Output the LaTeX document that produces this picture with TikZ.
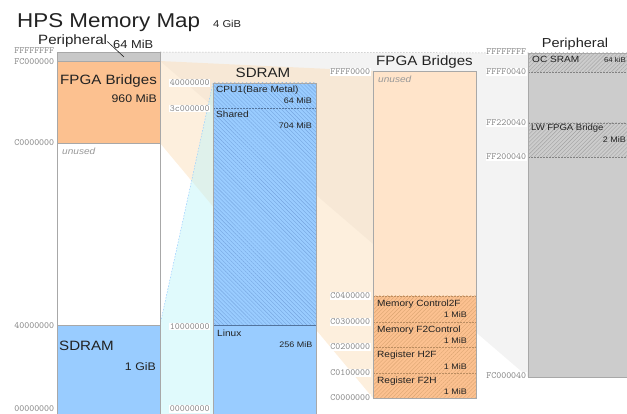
\documentclass[tikz,border=0pt]{standalone}
\usepackage{fontspec}
\setmainfont[FakeStretch=1.12]{Liberation Sans}
\usetikzlibrary{patterns.meta}

\definecolor{bandgrey}{HTML}{C8C8C8}
\definecolor{perigrey}{HTML}{CCCCCC}
\definecolor{fpgaorange}{HTML}{FCC190}
\definecolor{fpgalight}{HTML}{FFE4CA}
\definecolor{sdramblue}{HTML}{99CCFF}
\definecolor{hatchblue}{HTML}{77A6E0}
\definecolor{hatchorange}{HTML}{DCA672}
\definecolor{hatchgrey}{HTML}{A2A2A2}
\definecolor{edgegrey}{HTML}{A8A8A8}
\definecolor{fangreybase}{HTML}{E7E7E7}
\definecolor{fanorangebase}{HTML}{FBDFBB}
\definecolor{fancyanbase}{HTML}{C1F5F9}
\definecolor{addrgrey}{HTML}{858585}
\definecolor{inktext}{HTML}{222222}

\begin{document}
\begin{tikzpicture}[x=1pt,y=-1pt,
  colbox/.style={draw=edgegrey,line width=0.8pt},
  divider/.style={line width=0.6pt,dash pattern=on 2pt off 1pt},
  fanfill/.style={fill opacity=0.5},
  fanedge/.style={line width=0.5pt,dash pattern=on 1.5pt off 1.5pt},
  hatchdown/.style={pattern={Lines[angle=-45,distance=2.8pt,line width=0.4pt]},pattern color=#1},
  hatchup/.style={pattern={Lines[angle=45,distance=2.8pt,line width=0.4pt]},pattern color=#1},
  addr/.style={font=\ttfamily\fontsize{9.5}{10}\selectfont,text=addrgrey,
    fill=white,inner sep=0.6pt,anchor=east},
  coltitle/.style={font=\fontsize{13.5}{14}\selectfont,text=inktext,anchor=base,inner sep=0pt},
  bigname/.style={font=\fontsize{13.5}{14}\selectfont,text=inktext,anchor=base west,inner sep=0pt},
  bigsize/.style={font=\fontsize{11}{12}\selectfont,text=inktext,anchor=base east,inner sep=0pt},
  secname/.style={font=\fontsize{9}{10}\selectfont,text=inktext,anchor=base west,inner sep=0pt},
  secsize/.style={font=\fontsize{8}{9}\selectfont,text=inktext,anchor=base east,inner sep=0pt},
  unusedlbl/.style={font=\itshape\fontsize{9}{10}\selectfont,text=black!40,anchor=base west,inner sep=0pt}]
\useasboundingbox (0,0) rectangle (627,414);

% ---- projection fans between the maps ----
\fill[fangreybase,fanfill] (160,52) -- (528,53) -- (528,377) -- (160,61) -- cycle;
\draw[black!25,fanedge] (160,52) -- (528,53);
\fill[fanorangebase,fanfill] (160,61) -- (373,71) -- (373,398) -- (160,143) -- cycle;
\fill[fancyanbase,fanfill] (160,325) -- (213,83) -- (213,420) -- (160,420) -- cycle;
\draw[sdramblue,fanedge] (160,325) -- (213,83);

% ---- title ----
\node[font=\fontsize{20}{22}\selectfont,text=inktext,anchor=base west,inner sep=0pt]
  (title) at (17,28) {HPS Memory Map};
\node[font=\fontsize{10}{11}\selectfont,text=inktext,anchor=base west,inner sep=0pt]
  (titlesize) at (213,28) {4 GiB};

% ---- full 4 GiB map ----
\filldraw[colbox,fill=bandgrey] (57,52) rectangle (160,61);
\filldraw[colbox,fill=fpgaorange] (57,61) rectangle (160,143);
\filldraw[colbox,fill=white] (57,143) rectangle (160,325);
\filldraw[colbox,fill=sdramblue] (57,325) rectangle (160,420);

\node[font=\fontsize{13.5}{14}\selectfont,text=inktext,anchor=base west,inner sep=0pt]
  (periname) at (38,45) {Peripheral};
\node[font=\fontsize{11.5}{12}\selectfont,text=inktext,anchor=base west,inner sep=0pt]
  (perisize) at (113,49) {64 MiB};
\coordinate (periband) at (124,57);
\draw[inktext,line width=0.6pt] (periname.east) -- (periband);

\node[bigname] (fpganame) at (60,85) {FPGA Bridges};
\node[bigsize] (fpgasize) at (157,103) {960 MiB};
\node[unusedlbl] (unusedmain) at (62,155) {unused};
\node[bigname] (sdramname) at (59,350) {SDRAM};
\node[bigsize] (sdramsize) at (156,370.5) {1 GiB};

\node[addr] (a1) at (55,51) {FFFFFFFF};
\node[addr] (a2) at (55,61.5) {FC000000};
\node[addr] (a3) at (55,143) {C0000000};
\node[addr] (a4) at (55,326) {40000000};
\node[addr] (a5) at (55,409) {00000000};

% ---- SDRAM detail ----
\fill[sdramblue] (213,83) rectangle (316,325);
\fill[hatchdown=hatchblue] (213,83) rectangle (316,325);
\draw[hatchblue!70!black,divider] (213,108) -- (316,108);
\fill[sdramblue] (213,325) rectangle (316,420);
\draw[hatchblue!70!black,line width=0.6pt] (213,325) -- (316,325);
\draw[colbox] (213,420) -- (213,83) -- (316,83) -- (316,420);

\node[coltitle] (sdramtitle) at (263,78) {SDRAM};
\node[secname] (cpu1) at (216,93) {CPU1(Bare Metal)};
\node[secsize] (cpu1size) at (312,104) {64 MiB};
\node[secname] (shared) at (216,118) {Shared};
\node[secsize] (sharedsize) at (312,129) {704 MiB};
\node[secname] (linux) at (217,337) {Linux};
\node[secsize] (linuxsize) at (312.5,347) {256 MiB};

\node[addr] (s1) at (210.5,83) {40000000};
\node[addr] (s2) at (210.5,108.5) {3c000000};
\node[addr] (s3) at (210.5,326.5) {10000000};
\node[addr] (s4) at (210.5,409) {00000000};

% ---- FPGA bridges detail ----
\fill[fpgalight] (373,71) rectangle (476,296);
\fill[fpgaorange] (373,296) rectangle (476,398);
\fill[hatchup=hatchorange] (373,296) rectangle (476,398);
\foreach \yy in {296,322,347,373}
  \draw[hatchorange!85!black,divider] (373,\yy) -- (476,\yy);
\draw[colbox] (373,71) rectangle (476,398);

\node[coltitle] (fpgatitle) at (424.5,66) {FPGA Bridges};
\node[unusedlbl] (unusedfpga) at (378,83) {unused};
\node[secname] (mc2f) at (377,306.5) {Memory Control2F};
\node[secsize] (mc2fsize) at (467,318) {1 MiB};
\node[secname] (mf2c) at (377,332.5) {Memory F2Control};
\node[secsize] (mf2csize) at (467,343) {1 MiB};
\node[secname] (rh2f) at (377,357.5) {Register H2F};
\node[secsize] (rh2fsize) at (467,369) {1 MiB};
\node[secname] (rf2h) at (377,383) {Register F2H};
\node[secsize] (rf2hsize) at (467,394) {1 MiB};

\node[addr] (f1) at (371,72) {FFFF0000};
\node[addr] (f2) at (371,296) {C0400000};
\node[addr] (f3) at (371,322) {C0300000};
\node[addr] (f4) at (371,347) {C0200000};
\node[addr] (f5) at (371,373) {C0100000};
\node[addr] (f6) at (371,398) {C0000000};

% ---- peripheral detail ----
\fill[perigrey] (528,53) rectangle (631,377);
\fill[hatchup=hatchgrey] (528,53) rectangle (631,72);
\fill[hatchup=hatchgrey] (528,123) rectangle (631,157);
\draw[hatchgrey!80!black,divider] (528,72) -- (631,72);
\draw[hatchgrey!80!black,divider] (528,123) -- (631,123);
\draw[hatchgrey!80!black,divider] (528,157) -- (631,157);
\draw[colbox] (528,53) rectangle (631,377);

\node[font=\fontsize{13}{14}\selectfont,text=inktext,anchor=base,inner sep=0pt]
  (perititle) at (575,48) {Peripheral};
\node[secname] (ocsram) at (532,63) {OC SRAM};
\node[font=\fontsize{7}{8}\selectfont,text=inktext,anchor=base east,inner sep=0pt]
  (ocsramsize) at (626,63) {64 kiB};
\node[secname,font=\fontsize{8.5}{9.5}\selectfont] (lwbridge) at (531,131) {LW FPGA Bridge};
\node[secsize] (lwsize) at (626,143) {2 MiB};

\node[addr] (p1) at (527,51.5) {FFFFFFFF};
\node[addr] (p2) at (527,72) {FFFF0040};
\node[addr] (p3) at (527,123) {FF220040};
\node[addr] (p4) at (527,157) {FF200040};
\node[addr] (p5) at (527,375.5) {FC000040};
\end{tikzpicture}
\end{document}
